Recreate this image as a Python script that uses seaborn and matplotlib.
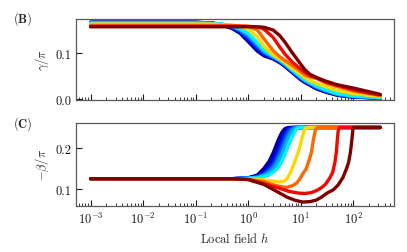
import numpy as np
import pandas as pd
import matplotlib
import matplotlib.pyplot as plt
import seaborn as sns

# jet colormap positions of the curves (navy ... dark red)
CURVE_POS = [0.0, 0.06, 0.12, 0.18, 0.24, 0.30, 0.36, 0.68, 0.80, 0.90, 1.0]

# (B) gamma/pi, all curves on one field grid
GAMMA_H = [0.001, 0.1, 0.2, 0.3, 0.5, 0.7, 1, 1.5, 2, 3, 4, 5, 7, 10, 12, 15, 20, 30, 50, 100, 200, 330]
GAMMA = [
    [0.167, 0.167, 0.165, 0.162, 0.153, 0.143, 0.125, 0.104, 0.094, 0.087, 0.079, 0.071, 0.057, 0.042, 0.036, 0.030, 0.022, 0.015, 0.008, 0.004, 0.003, 0.002],
    [0.167, 0.167, 0.165, 0.162, 0.154, 0.145, 0.128, 0.107, 0.096, 0.088, 0.080, 0.072, 0.058, 0.043, 0.037, 0.031, 0.023, 0.016, 0.009, 0.005, 0.003, 0.002],
    [0.166, 0.166, 0.165, 0.162, 0.155, 0.147, 0.131, 0.110, 0.098, 0.089, 0.081, 0.073, 0.059, 0.044, 0.038, 0.032, 0.024, 0.016, 0.009, 0.005, 0.003, 0.002],
    [0.166, 0.166, 0.165, 0.163, 0.156, 0.148, 0.134, 0.113, 0.100, 0.090, 0.082, 0.074, 0.060, 0.045, 0.039, 0.033, 0.025, 0.017, 0.010, 0.005, 0.004, 0.003],
    [0.166, 0.166, 0.165, 0.163, 0.157, 0.150, 0.137, 0.116, 0.102, 0.091, 0.083, 0.075, 0.061, 0.046, 0.040, 0.034, 0.026, 0.018, 0.010, 0.006, 0.004, 0.003],
    [0.165, 0.165, 0.164, 0.163, 0.158, 0.151, 0.140, 0.119, 0.104, 0.092, 0.084, 0.076, 0.062, 0.048, 0.041, 0.035, 0.027, 0.019, 0.011, 0.006, 0.004, 0.003],
    [0.165, 0.165, 0.164, 0.163, 0.159, 0.153, 0.143, 0.123, 0.107, 0.094, 0.085, 0.077, 0.063, 0.049, 0.042, 0.036, 0.028, 0.020, 0.012, 0.007, 0.005, 0.003],
    [0.163, 0.163, 0.163, 0.162, 0.160, 0.158, 0.152, 0.135, 0.115, 0.096, 0.087, 0.080, 0.066, 0.054, 0.047, 0.040, 0.034, 0.027, 0.019, 0.012, 0.008, 0.006],
    [0.160, 0.160, 0.160, 0.160, 0.160, 0.159, 0.158, 0.150, 0.131, 0.105, 0.092, 0.084, 0.073, 0.060, 0.053, 0.048, 0.045, 0.035, 0.027, 0.018, 0.012, 0.008],
    [0.158, 0.158, 0.158, 0.158, 0.158, 0.158, 0.158, 0.157, 0.152, 0.134, 0.113, 0.098, 0.080, 0.065, 0.058, 0.051, 0.046, 0.037, 0.030, 0.020, 0.013, 0.009],
    [0.157, 0.157, 0.157, 0.157, 0.157, 0.157, 0.157, 0.157, 0.156, 0.150, 0.138, 0.124, 0.100, 0.076, 0.064, 0.054, 0.047, 0.039, 0.031, 0.024, 0.016, 0.010],
]

# (C) -beta/pi, one field list per curve
BLUE_H = [0.001, 0.5, 1, 1.5, 2, 2.5, 3, 3.5, 4, 4.5, 5, 5.5, 6, 7, 8, 9, 10, 330]
BETA_H = [BLUE_H] * 7 + [
    [0.001, 0.5, 1, 2, 3, 4, 5, 5.7, 6.5, 7.5, 8.5, 9.5, 10.5, 11.5, 12.5, 15, 330],
    [0.001, 0.5, 1, 2, 3, 4.5, 5.5, 7, 8.5, 9.6, 11, 12.8, 14.5, 16.1, 17.6, 19.3, 21, 330],
    [0.001, 0.5, 1, 2, 3.7, 6, 9, 12, 16, 20, 25, 30, 36, 41, 45, 48, 50, 52, 55, 330],
    [0.001, 0.5, 1, 2, 3.5, 5.5, 8, 11, 15, 20, 25, 32, 42, 52, 64, 74, 82, 89, 95, 99, 102, 330],
]
BETA = [
    [0.125, 0.125, 0.127, 0.134, 0.150, 0.167, 0.188, 0.210, 0.228, 0.240, 0.247, 0.249, 0.250, 0.250, 0.250, 0.250, 0.250, 0.250],
    [0.125, 0.125, 0.127, 0.132, 0.144, 0.159, 0.177, 0.197, 0.216, 0.232, 0.242, 0.247, 0.249, 0.250, 0.250, 0.250, 0.250, 0.250],
    [0.125, 0.125, 0.127, 0.131, 0.140, 0.152, 0.168, 0.186, 0.205, 0.222, 0.235, 0.243, 0.247, 0.250, 0.250, 0.250, 0.250, 0.250],
    [0.125, 0.125, 0.126, 0.130, 0.137, 0.147, 0.160, 0.176, 0.194, 0.211, 0.226, 0.237, 0.244, 0.249, 0.250, 0.250, 0.250, 0.250],
    [0.125, 0.125, 0.126, 0.129, 0.135, 0.143, 0.154, 0.168, 0.184, 0.200, 0.215, 0.228, 0.237, 0.247, 0.250, 0.250, 0.250, 0.250],
    [0.125, 0.125, 0.126, 0.128, 0.133, 0.139, 0.148, 0.160, 0.174, 0.189, 0.204, 0.218, 0.229, 0.243, 0.249, 0.250, 0.250, 0.250],
    [0.125, 0.125, 0.126, 0.127, 0.130, 0.134, 0.140, 0.148, 0.157, 0.170, 0.183, 0.196, 0.208, 0.228, 0.243, 0.249, 0.250, 0.250],
    [0.125, 0.125, 0.125, 0.122, 0.119, 0.117, 0.120, 0.128, 0.142, 0.162, 0.180, 0.200, 0.222, 0.240, 0.248, 0.250, 0.250],
    [0.125, 0.125, 0.124, 0.118, 0.110, 0.105, 0.104, 0.108, 0.115, 0.124, 0.137, 0.149, 0.170, 0.190, 0.222, 0.246, 0.250, 0.250],
    [0.125, 0.125, 0.123, 0.113, 0.103, 0.094, 0.090, 0.089, 0.091, 0.096, 0.103, 0.112, 0.127, 0.141, 0.165, 0.190, 0.220, 0.242, 0.250, 0.250],
    [0.125, 0.125, 0.123, 0.111, 0.094, 0.080, 0.072, 0.068, 0.069, 0.073, 0.080, 0.090, 0.098, 0.110, 0.128, 0.148, 0.165, 0.190, 0.222, 0.245, 0.250, 0.250],
]

X_TICKS = [1e-3, 1e-2, 1e-1, 1e0, 1e1, 1e2]
X_LABELS = [r'$10^{-3}$', r'$10^{-2}$', r'$10^{-1}$', r'$10^{0}$', r'$10^{1}$', r'$10^{2}$']


def long_frame(h_lists, y_lists):
    rows = []
    for i, (hs, ys) in enumerate(zip(h_lists, y_lists)):
        for h, y in zip(hs, ys):
            rows.append({'curve': i, 'h': h, 'y': y})
    return pd.DataFrame(rows)


def main():
    sns.set_theme(style='ticks')
    plt.rcParams.update({
        'font.family': 'serif',
        'font.serif': ['cmr10'],
        'mathtext.fontset': 'cm',
        'axes.formatter.use_mathtext': True,
        'font.size': 9,
        'axes.edgecolor': '0.35',
        'axes.linewidth': 0.9,
        'xtick.direction': 'in',
        'ytick.direction': 'in',
    })

    cmap = matplotlib.colormaps['jet']
    palette = {i: cmap(p) for i, p in enumerate(CURVE_POS)}

    df_g = long_frame([GAMMA_H] * len(GAMMA), GAMMA)
    df_b = long_frame(BETA_H, BETA)

    fig = plt.figure(figsize=(4.07, 2.53), dpi=100)
    ax1 = fig.add_axes([0.187, 0.601, 0.781, 0.320])
    ax2 = fig.add_axes([0.187, 0.182, 0.781, 0.328])

    for ax, df in ((ax1, df_g), (ax2, df_b)):
        sns.lineplot(data=df, x='h', y='y', hue='curve', palette=palette,
                     estimator=None, sort=False, lw=2.4, legend=False, ax=ax)
        ax.set_xscale('log')
        ax.set_xlim(5.3e-4, 6.0e2)
        ax.set_xticks(X_TICKS)
        ax.tick_params(which='major', length=4, width=0.8, colors='0.1',
                       labelsize=9, top=False, right=False)
        ax.tick_params(which='minor', length=2, width=0.6, colors='0.1',
                       top=False, right=False)
        for s in ax.spines.values():
            s.set_visible(True)

    ax1.set_ylim(-0.002, 0.174)
    ax1.set_yticks([0.0, 0.1])
    ax1.set_yticklabels(['0.0', '0.1'])
    ax1.set_xticklabels([])
    ax1.set_xlabel('')
    ax1.set_ylabel(r'$\gamma/\pi$', fontsize=9, labelpad=3)

    ax2.set_ylim(0.0585, 0.261)
    ax2.set_yticks([0.1, 0.2])
    ax2.set_yticklabels(['0.1', '0.2'])
    ax2.set_xticklabels(X_LABELS)
    ax2.set_xlabel(r'Local field $h$', fontsize=9, labelpad=4)
    ax2.set_ylabel(r'$-\beta/\pi$', fontsize=9, labelpad=3)

    fig.text(0.032, 0.925, r'$\mathbf{(B)}$', fontsize=9, va='center')
    fig.text(0.032, 0.51, r'$\mathbf{(C)}$', fontsize=9, va='center')

    fig.savefig('out.png', dpi=100)


if __name__ == '__main__':
    main()
